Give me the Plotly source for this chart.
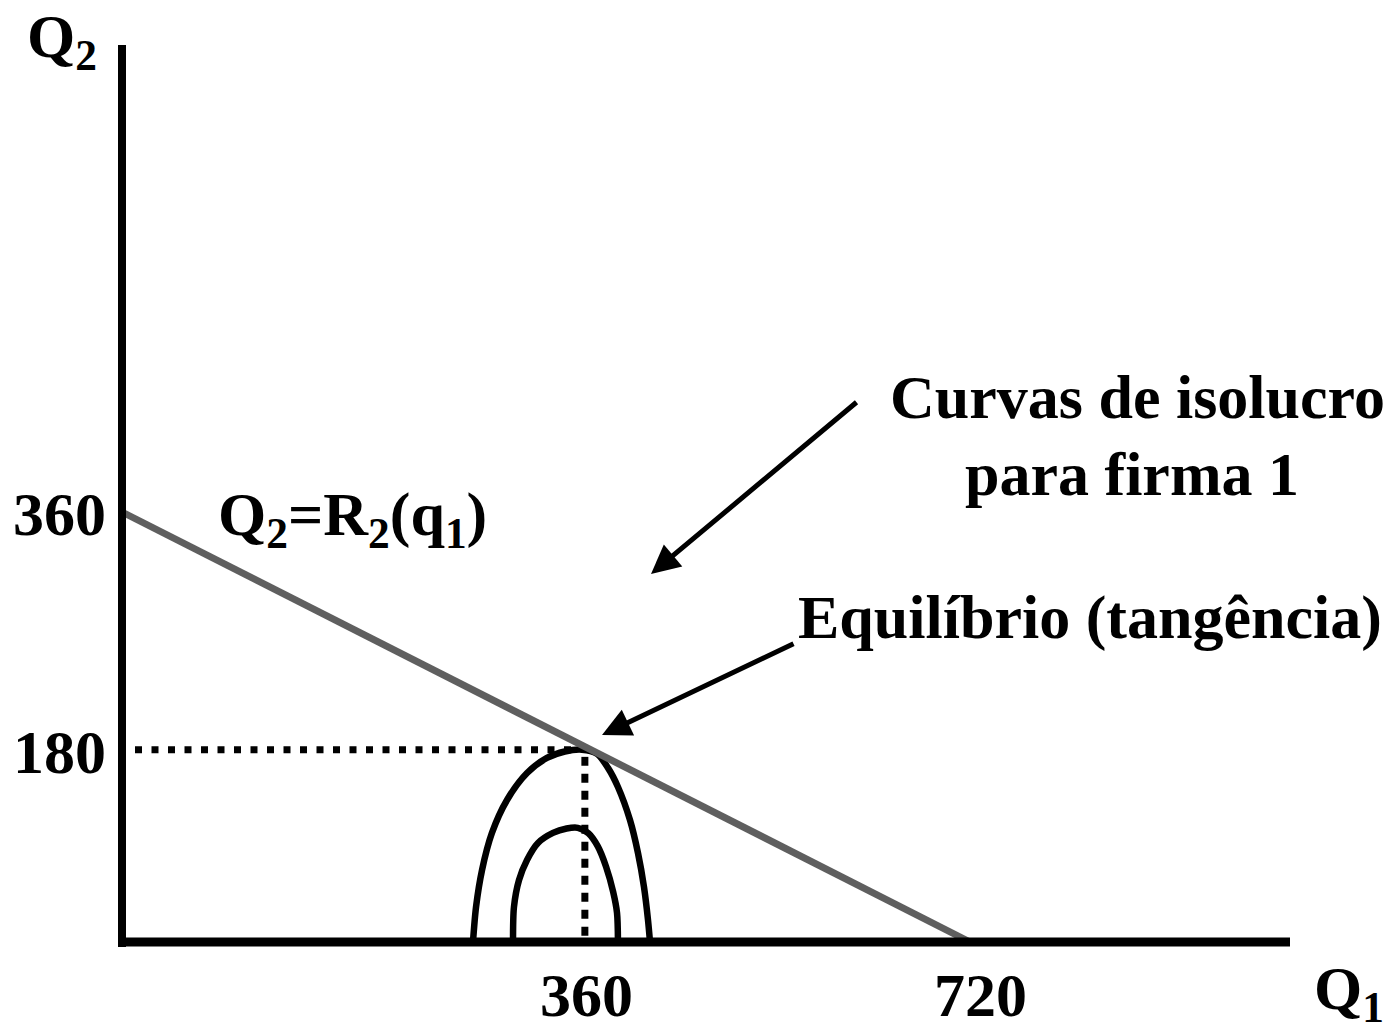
import plotly.graph_objects as go

# ---- data (drawing units: Q1 horizontal, Q2 vertical) ----
reaction_q1 = [0, 720]
reaction_q2 = [360, 0]

outer_q1 = [298, 300.6, 305.7, 314.1, 326.9, 343.9, 360.8, 376, 390.6,
            403.3, 412.5, 421.1, 431.3, 438.1, 443.2, 446.6, 448.3]
outer_q2 = [0, 29.3, 60.3, 91.3, 118.9, 141.5, 154.1, 159.5, 161.0,
            157.5, 146.0, 129.8, 102.1, 74.5, 46.0, 18.4, 0]

inner_q1 = [332.0, 332.8, 337.1, 343.9, 353.2, 365.9, 377.5, 387.0, 396.0, 404.0, 411.0, 417.0, 420.3, 421.1]
inner_q2 = [0, 29.3, 51.9, 68.7, 82.9, 91.3, 95.0, 95.6, 91.0, 80.0, 63.0, 42.0, 24.3, 0]

equilibrium_q1 = 391
equilibrium_q2 = 161

x_tick_vals = [394, 729]
x_tick_text = ["360", "720"]
y_tick_vals = [358, 159]
y_tick_text = ["360", "180"]

FONT = "Liberation Serif"
FS = 62
W, H = 1398, 1031
# pixel mapping of the drawing
PX0, PY0 = 122, 942
SX, SY = 848 / 720, 430 / 360

x_range = [(-PX0) / SX, (W - PX0) / SX]
y_range = [(PY0 - H) / SY, PY0 / SY]

fig = go.Figure()

# axes lines
fig.add_shape(type="line", xref="x", yref="y", x0=0, x1=0,
              y0=(PY0 - 947) / SY, y1=(PY0 - 45) / SY,
              line=dict(color="black", width=8))
fig.add_shape(type="line", xref="x", yref="y", x0=(118 - PX0) / SX, x1=(1290 - PX0) / SX,
              y0=0, y1=0, line=dict(color="black", width=9))

# dotted guides
fig.add_trace(go.Scatter(x=[(135 - PX0) / SX, equilibrium_q1 - 8], y=[equilibrium_q2, equilibrium_q2],
                         mode="lines", line=dict(color="black", width=7, dash="7px,9.5px"),
                         hoverinfo="skip", showlegend=False))
fig.add_trace(go.Scatter(x=[equilibrium_q1 + 2, equilibrium_q1 + 2], y=[equilibrium_q2 - 6, 0],
                         mode="lines", line=dict(color="black", width=7, dash="9px,8px"),
                         hoverinfo="skip", showlegend=False))

# isoprofit curves
for xs, ys in ((outer_q1, outer_q2), (inner_q1, inner_q2)):
    fig.add_trace(go.Scatter(x=xs, y=ys, mode="lines",
                             line=dict(color="black", width=6.5, shape="spline", smoothing=0.8),
                             hoverinfo="skip", showlegend=False))

# reaction curve
fig.add_trace(go.Scatter(x=reaction_q1, y=reaction_q2, mode="lines",
                         line=dict(color="#5f5f5f", width=7),
                         hoverinfo="skip", showlegend=False))

ann = []
for v, t in zip(x_tick_vals, x_tick_text):
    ann.append(dict(x=v, y=(PY0 - 995) / SY, xref="x", yref="y", text="<b>" + t + "</b>",
                    showarrow=False, xanchor="center", yanchor="middle",
                    font=dict(family=FONT, size=FS, color="black")))
for v, t in zip(y_tick_vals, y_tick_text):
    ann.append(dict(x=(108 - PX0) / SX, y=v, xref="x", yref="y", text="<b>" + t + "</b>",
                    showarrow=False, xanchor="right", yanchor="middle",
                    font=dict(family=FONT, size=FS, color="black")))


def ptext(px, py, text, anchor="center"):
    return dict(x=px / W, y=1 - py / H, xref="paper", yref="paper", text=text,
                showarrow=False, xanchor=anchor, yanchor="middle",
                font=dict(family=FONT, size=FS, color="black"))


ann.append(ptext(62, 40, "<b>Q<sub>2</sub></b>"))
ann.append(ptext(1349, 992, "<b>Q<sub>1</sub></b>"))
ann.append(ptext(352, 518, "<b>Q<sub>2</sub>=R<sub>2</sub>(q<sub>1</sub>)</b>"))
ann.append(ptext(1137, 397, "<b>Curvas de isolucro</b>"))
ann.append(ptext(1132, 474, "<b>para firma 1</b>"))
ann.append(ptext(1090, 617, "<b>Equilíbrio (tangência)</b>"))

# arrows
ann.append(dict(x=651 / W, y=1 - 574 / H, xref="paper", yref="paper", text="",
                showarrow=True, ax=207, ay=-173, axref="pixel", ayref="pixel",
                arrowhead=2, arrowsize=1.15, arrowwidth=5, arrowcolor="black", standoff=0))
ann.append(dict(x=602 / W, y=1 - 735 / H, xref="paper", yref="paper", text="",
                showarrow=True, ax=193, ay=-92, axref="pixel", ayref="pixel",
                arrowhead=2, arrowsize=1.15, arrowwidth=5, arrowcolor="black", standoff=0))

fig.update_layout(
    width=W, height=H,
    margin=dict(l=0, r=0, t=0, b=0),
    paper_bgcolor="white", plot_bgcolor="white",
    xaxis=dict(range=x_range, visible=False, fixedrange=True),
    yaxis=dict(range=y_range, visible=False, fixedrange=True),
    annotations=ann,
    showlegend=False,
)

fig.write_html("out.html", config={"displayModeBar": False},
               post_script="document.body.style.margin='0px';")
